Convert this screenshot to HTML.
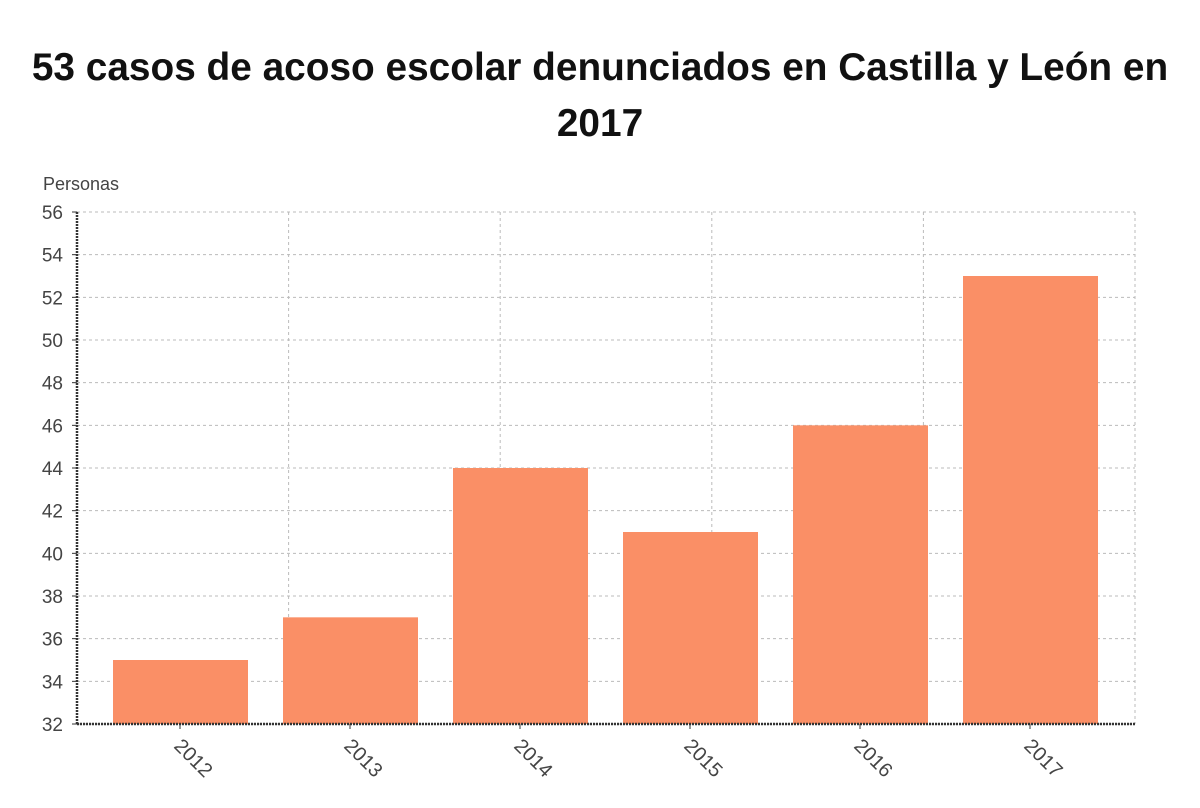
<!DOCTYPE html>
<html><head><meta charset="utf-8"><style>
body{margin:0;background:#fff;width:1200px;height:808px;overflow:hidden;font-family:"Liberation Sans","DejaVu Sans",sans-serif}
h1{position:absolute;left:0;top:40px;width:1200px;margin:0;text-align:center;font-size:38.8px;line-height:56px;font-weight:bold;color:#111}
</style></head><body>
<h1>53 casos de acoso escolar denunciados en Castilla y León en<br>2017</h1>
<svg id="c" width="1200" height="808" style="position:absolute;left:0;top:0"></svg>
<script>
const categories=["2012","2013","2014","2015","2016","2017"];
const values=[35,37,44,41,46,53];
const yTicks=[32,34,36,38,40,42,44,46,48,50,52,54,56];
const NS="http://www.w3.org/2000/svg",svg=document.getElementById('c');
const L=77,R=1135,T=212,B=724,yMin=32,yMax=56;
const y=v=>B-(v-yMin)/(yMax-yMin)*(B-T);
const band=170,x0=78;
const x=i=>x0+i*band;
function el(t,a,p){const e=document.createElementNS(NS,t);for(const k in a)e.setAttribute(k,a[k]);(p||svg).appendChild(e);return e;}
const defs=el('defs',{});const cp=el('clipPath',{id:'clip'},defs);el('rect',{x:0,y:0,width:1200,height:781},cp);
const grid=el('g',{});


yTicks.forEach(t=>{
 el('line',{x1:L,x2:R,y1:y(t),y2:y(t),stroke:'#bbb','stroke-dasharray':'3,3'},grid);
 const tx=el('text',{x:63,y:y(t)+7,'text-anchor':'end','font-size':19,fill:'#444'});
 tx.textContent=t;
 
 
 el('line',{x1:L-5,x2:L,y1:y(t),y2:y(t),stroke:'#333'});
});
for(let k=1;k<=5;k++){const gx=L+k*(R-L)/5;el('line',{x1:gx,x2:gx,y1:T,y2:B,stroke:'#bbb','stroke-dasharray':'3,3'},grid);}
const yl=el('text',{x:43,y:190,'font-size':18,fill:'#444'});yl.textContent='Personas';


values.forEach((v,i)=>{
 const r=el('rect',{x:x(i)+35,y:y(v),width:135,height:B-y(v),fill:'#FA8F66'});
 
 
 const cx=x(i)+102;
 el('line',{x1:cx,x2:cx,y1:B,y2:B+5,stroke:'#333'});
 const t=el('text',{x:cx-7,y:B+23,'font-size':20,fill:'#444','clip-path':'url(#clip)',transform:`rotate(45 ${cx-7} ${B+23})`});
 t.textContent=categories[i];
 
 
});
const ax=el('line',{x1:L,x2:R,y1:B,y2:B,stroke:'#333','stroke-width':2.5,'stroke-dasharray':'2,1'});


const ay=el('line',{x1:L,x2:L,y1:T,y2:B,stroke:'#333','stroke-width':2.5,'stroke-dasharray':'2,1'});


</script>
</body></html>
